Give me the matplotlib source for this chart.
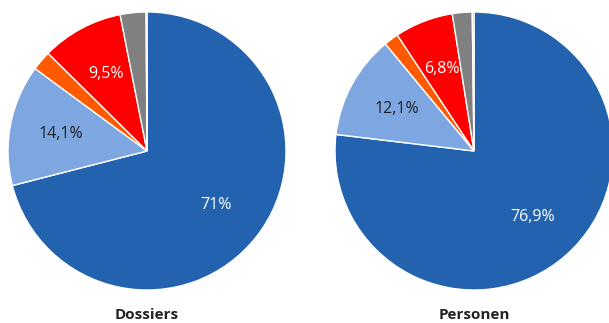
import matplotlib
matplotlib.use("Agg")
import matplotlib.pyplot as plt
import numpy as np

plt.rcParams['font.family'] = ['Open Sans', 'DejaVu Sans']

titles = ["Dossiers", "Personen"]
dossiers = [71.0, 14.1, 2.3, 9.5, 3.0, 0.1]
personen = [76.9, 12.1, 1.7, 6.8, 2.3, 0.2]
colors = ["#2262AE", "#7EA7E1", "#FF5A00", "#FF0000", "#808080", "#62B0A0"]
text_colors = ["white", "#222222", "white", "white", "white", "white"]
shown = [True, True, False, True, False, False]

W, H = 609, 323
fig = plt.figure(figsize=(W / 100, H / 100), dpi=100)

# pie centres / radius in pixels
centers = [147, 474]
r = 139
cy = 151

for i, (vals, title) in enumerate(zip([dossiers, personen], titles)):
    cx = centers[i]
    ax = fig.add_axes([(cx - r) / W, (H - cy - r) / H, 2 * r / W, 2 * r / H])
    wedges, _ = ax.pie(vals, colors=colors, startangle=90, counterclock=False,
                       wedgeprops=dict(edgecolor="white", linewidth=1))
    total = sum(vals)
    ang = 90.0
    for v, tc, s in zip(vals, text_colors, shown):
        mid = ang - v / total * 360 / 2
        ang -= v / total * 360
        if not s:
            continue
        lbl = ("%.1f" % v).replace(".", ",")
        if lbl.endswith(",0"):
            lbl = lbl[:-2]
        ax.text(0.63 * np.cos(np.radians(mid)), 0.63 * np.sin(np.radians(mid)),
                lbl + "%", ha="center", va="center", color=tc, fontsize=11.5)
    ax.set_xlim(-1, 1)
    ax.set_ylim(-1, 1)
    fig.text(cx / W, (H - 315) / H, title, ha="center", va="center",
             fontsize=11, fontweight="bold", color="#222222")

fig.savefig("out.png", dpi=100)
